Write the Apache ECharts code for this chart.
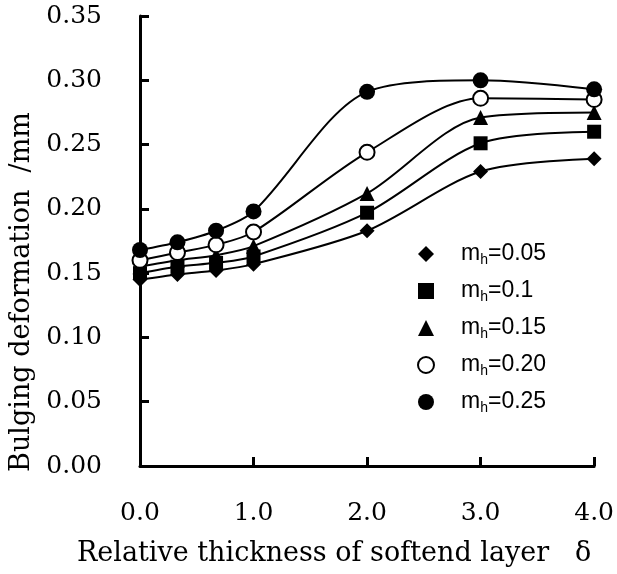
<!DOCTYPE html>
<html>
<head>
<meta charset="utf-8">
<script src="https://cdn.jsdelivr.net/npm/echarts@6/dist/echarts.min.js"></script>
<style>
  html, body { margin: 0; padding: 0; background: #fff; }
  #chart { width: 617px; height: 574px; }
</style>
</head>
<body>
<div id="chart"></div>
<script>
// relative thickness of the softened layer
const thickness = [0, 0.33, 0.67, 1.0, 2.0, 3.0, 4.0]
// bulging deformation (mm) for each m_h
const mh005 = [0.145, 0.149, 0.152, 0.157, 0.183, 0.229, 0.239]
const mh010 = [0.150, 0.155, 0.158, 0.163, 0.197, 0.251, 0.260]
const mh015 = [0.155, 0.160, 0.164, 0.171, 0.212, 0.271, 0.275]
const mh020 = [0.160, 0.166, 0.172, 0.182, 0.244, 0.286, 0.285]
const mh025 = [0.168, 0.174, 0.183, 0.198, 0.291, 0.300, 0.293]
const mhLabels = ['0.05', '0.1', '0.15', '0.20', '0.25']
const symbols = ['diamond', 'rect', 'triangle', 'circle', 'circle']
const symbolSizes = [15, 14, 15, 15, 16]

const allValues = [mh005, mh010, mh015, mh020, mh025]
const serif = '"DejaVu Serif", "Liberation Serif", serif'
const sans = '"Liberation Sans", Arial, sans-serif'

const chartInstance = echarts.init(document.getElementById('chart'))

// 空心圆 (m_h = 0.20)
const openStyle = { color: '#fff', borderColor: '#000', borderWidth: 2 }
const fillStyle = { color: '#000', borderColor: '#000', borderWidth: 0 }

const series = allValues.map((vals, i) => ({
  name: mhLabels[i],
  type: 'line',
  smooth: 0.3,
  data: vals.map((v, j) => [thickness[j], v]),
  symbol: symbols[i],
  symbolSize: symbolSizes[i],
  showAllSymbol: true,
  lineStyle: { color: '#000', width: 2 },
  itemStyle: i === 3 ? openStyle : fillStyle,
  emphasis: { disabled: true },
  z: 2 + i,
}))

const legendData = mhLabels.map((name, i) => ({
  name,
  icon: symbols[i],
  itemStyle: i === 3 ? openStyle : fillStyle,
}))

const option = {
  animation: false,
  backgroundColor: '#fff',
  grid: { left: 140, right: 17, top: 16, bottom: 108 },
  legend: {
    orient: 'vertical',
    left: 412,
    top: 236,
    itemWidth: 16,
    itemHeight: 16,
    itemGap: 11,
    data: legendData,
    formatter: (name) => '{m|m}{s|h}{t|=' + name + '}',
    textStyle: {
      color: '#000',
      padding: [0, 0, 0, 22],
      rich: {
        m: { fontFamily: sans, fontSize: 23, lineHeight: 26, color: '#000' },
        s: { fontFamily: sans, fontSize: 14, lineHeight: 26, color: '#000', verticalAlign: 'bottom', padding: [12, 0, 0, 0] },
        t: { fontFamily: sans, fontSize: 23, lineHeight: 26, color: '#000' },
      },
    },
  },
  xAxis: {
    type: 'value',
    min: 0,
    max: 4,
    interval: 1,
    name: 'Relative thickness of softend layer   δ',
    nameLocation: 'middle',
    nameGap: 74,
    nameTextStyle: { fontFamily: serif, fontSize: 27, color: '#000', padding: [0, 66, 0, 0] },
    axisLine: { onZero: false, lineStyle: { color: '#000', width: 3 } },
    axisTick: { inside: true, length: 9, lineStyle: { color: '#000', width: 3 } },
    axisLabel: {
      margin: 35,
      fontFamily: serif,
      fontSize: 25,
      color: '#000',
      formatter: (v) => v.toFixed(1),
    },
    splitLine: { show: false },
  },
  yAxis: {
    type: 'value',
    min: 0,
    max: 0.35,
    interval: 0.05,
    name: 'Bulging deformation  /mm',
    nameLocation: 'middle',
    nameGap: 104,
    nameRotate: 90,
    nameTextStyle: { fontFamily: serif, fontSize: 27, color: '#000', padding: [0, 102, 0, 0] },
    axisLine: { onZero: false, lineStyle: { color: '#000', width: 3 } },
    axisTick: { inside: true, length: 9, lineStyle: { color: '#000', width: 3 } },
    axisLabel: {
      margin: 38,
      fontFamily: serif,
      fontSize: 25,
      color: '#000',
      formatter: (v) => v.toFixed(2),
    },
    splitLine: { show: false },
  },
  series,
}

chartInstance.setOption(option)
</script>
</body>
</html>
